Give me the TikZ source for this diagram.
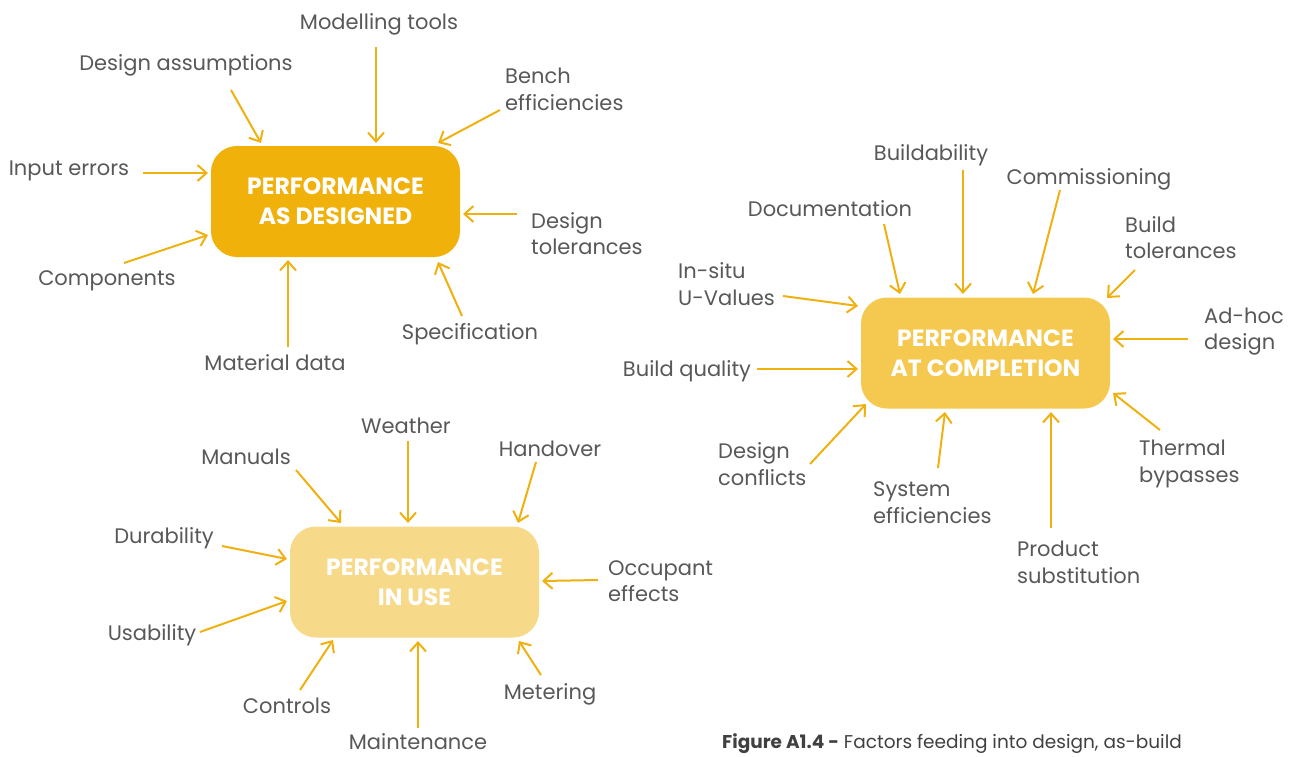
\documentclass[tikz,border=0pt]{standalone}
\usepackage{fontspec}
\setmainfont{Poppins}
\usetikzlibrary{arrows.meta}
\definecolor{txt}{HTML}{58585A}
\definecolor{cap}{HTML}{404040}
\definecolor{arrc}{HTML}{EFB110}
\definecolor{boxa}{HTML}{F0B10A}
\definecolor{boxb}{HTML}{F5C94F}
\definecolor{boxc}{HTML}{F7D98A}
\tikzset{
  lbl/.style={text=txt,font=\fontsize{21}{26.5}\selectfont,inner sep=0pt,align=left},
  pbox/.style={rounded corners=26pt,minimum width=249pt,minimum height=111pt,text=white,
    font=\fontsize{23.5}{30}\selectfont\bfseries,align=center,inner sep=0pt},
  arr/.style={draw=arrc,line width=2pt,-{Straight Barb[length=9pt,width=16pt,line width=2pt]}},
}
\begin{document}
\begin{tikzpicture}[x=1pt,y=-1pt]
\useasboundingbox (0,0) rectangle (1293,756);
% boxes
\node[pbox,fill=boxa] (b1) at (335.5,201.5) {PERFORMANCE\\AS DESIGNED};
\node[pbox,fill=boxb] (b2) at (985.5,353) {PERFORMANCE\\AT COMPLETION};
\node[pbox,fill=boxc] (b3) at (414.5,582) {PERFORMANCE\\IN USE};
% ---- box 1 labels
\node[lbl] (l1) at (379,24) {Modelling tools};
\node[lbl] (l2) at (186,65) {Design assumptions};
\node[lbl,anchor=west] (l3) at (505,89.5) {Bench\\efficiencies};
\node[lbl] (l4) at (69,171) {Input errors};
\node[lbl,anchor=west] (l5) at (531,233.5) {Design\\tolerances};
\node[lbl] (l6) at (107,281) {Components};
\node[lbl] (l7) at (275,363) {Material data};
\node[lbl] (l8) at (470,334) {Specification};
\coordinate (s1) at (376,47);  \coordinate (e1) at (376,143);
\coordinate (s2) at (231,90);  \coordinate (e2) at (261,143);
\coordinate (s3) at (500,110); \coordinate (e3) at (438,143);
\coordinate (s4) at (143,173); \coordinate (e4) at (208,173);
\coordinate (s5) at (517,214); \coordinate (e5) at (463,214);
\coordinate (s6) at (124,263); \coordinate (e6) at (208,235);
\coordinate (s7) at (288,347); \coordinate (e7) at (288,260);
\coordinate (s8) at (462,316); \coordinate (e8) at (438,262);
\foreach \i in {1,...,8}{\draw[arr] (s\i) -- (e\i);}
% ---- box 2 labels
\node[lbl] (m1) at (931,155) {Buildability};
\node[lbl] (m2) at (1089,179) {Commissioning};
\node[lbl] (m3) at (830,209) {Documentation};
\node[lbl,anchor=west] (m4) at (1125,237.5) {Build\\tolerances};
\node[lbl,anchor=west] (m5) at (678,284) {In-situ\\U-Values};
\node[lbl,anchor=west] (m6) at (1204,331.5) {Ad-hoc\\design};
\node[lbl] (m7) at (687,371) {Build quality};
\node[lbl,anchor=west] (m8) at (718,464) {Design\\conflicts};
\node[lbl,anchor=west] (m9) at (873,502.5) {System\\efficiencies};
\node[lbl,anchor=west] (m10) at (1139,464) {Thermal\\bypasses};
\node[lbl,anchor=west] (m11) at (1017,562.5) {Product\\substitution};
\coordinate (t1) at (963,170);  \coordinate (f1) at (963,294);
\coordinate (t2) at (1060,190); \coordinate (f2) at (1033,294);
\coordinate (t3) at (884,224);  \coordinate (f3) at (900,294);
\coordinate (t4) at (1135,270); \coordinate (f4) at (1107,298);
\coordinate (t5) at (783,296);  \coordinate (f5) at (858,306);
\coordinate (t6) at (1188,339); \coordinate (f6) at (1113,339);
\coordinate (t7) at (757,369);  \coordinate (f7) at (858,369);
\coordinate (t8) at (810,464);  \coordinate (f8) at (866,404);
\coordinate (t9) at (938,468);  \coordinate (f9) at (945,412);
\coordinate (t10) at (1160,430); \coordinate (f10) at (1113,393);
\coordinate (t11) at (1051,528); \coordinate (f11) at (1051,412);
\foreach \i in {1,...,11}{\draw[arr] (t\i) -- (f\i);}
% ---- box 3 labels
\node[lbl] (n1) at (406,426) {Weather};
\node[lbl] (n2) at (246,457) {Manuals};
\node[lbl] (n3) at (550,449) {Handover};
\node[lbl] (n4) at (164,538) {Durability};
\node[lbl,anchor=west] (n5) at (608,581) {Occupant\\effects};
\node[lbl] (n6) at (152,635) {Usability};
\node[lbl] (n7) at (287,706) {Controls};
\node[lbl] (n8) at (418,741.5) {Maintenance};
\node[lbl] (n9) at (550,694) {Metering};
\coordinate (u1) at (408,441); \coordinate (g1) at (408,523);
\coordinate (u2) at (296,470); \coordinate (g2) at (341,523);
\coordinate (u3) at (536,462); \coordinate (g3) at (518,523);
\coordinate (u4) at (222,546); \coordinate (g4) at (287,559);
\coordinate (u5) at (598,580); \coordinate (g5) at (542,581);
\coordinate (u6) at (200,632); \coordinate (g6) at (287,601);
\coordinate (u7) at (300,690); \coordinate (g7) at (333,640);
\coordinate (u8) at (418,728); \coordinate (g8) at (418,641);
\coordinate (u9) at (541,675); \coordinate (g9) at (519,641);
\foreach \i in {1,...,9}{\draw[arr] (u\i) -- (g\i);}
% caption
\node[text=cap,font=\fontsize{18.5}{20}\selectfont,inner sep=0pt,anchor=west] (capt) at (722,744)
  {\textbf{Figure A1.4 -} Factors feeding into design, as-build};
\end{tikzpicture}
\end{document}
